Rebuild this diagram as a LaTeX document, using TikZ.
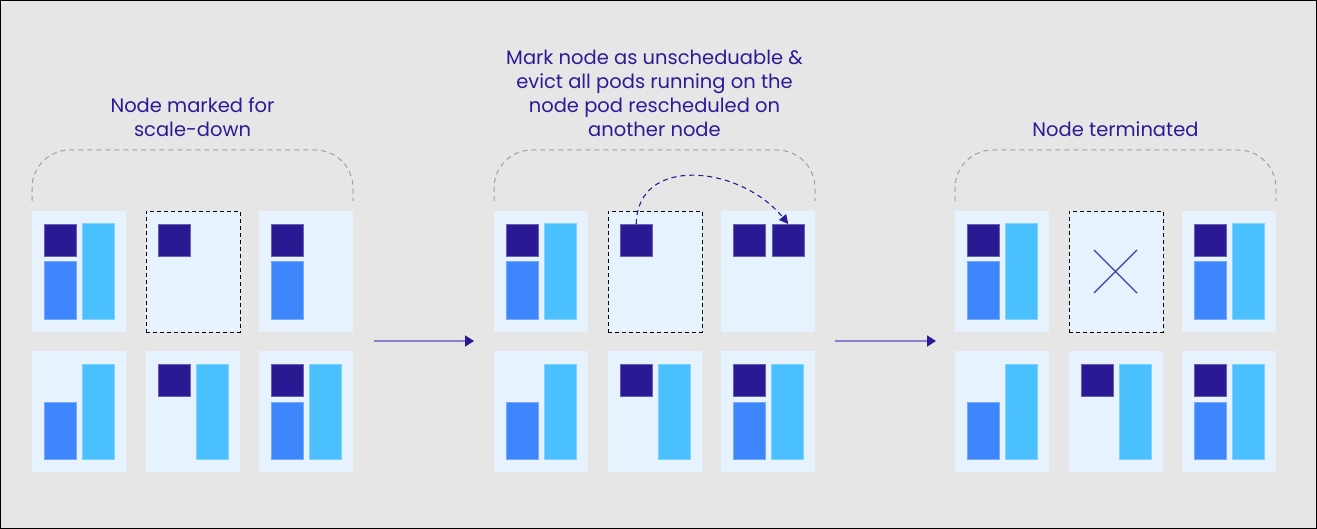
\documentclass[tikz,border=0pt]{standalone}
\usepackage{fontspec}
\setmainfont{Poppins}
\usetikzlibrary{arrows.meta}
\definecolor{bgc}{HTML}{E6E6E6}
\definecolor{cellc}{HTML}{E6F2FD}
\definecolor{darkc}{HTML}{291A93}
\definecolor{midc}{HTML}{3D86FB}
\definecolor{lightc}{HTML}{4AC0FE}
\definecolor{txtc}{HTML}{2B1B94}
\definecolor{arrc}{HTML}{8682C8}
\definecolor{brc}{HTML}{A0A0A0}
\definecolor{crossc}{HTML}{3F3AA8}
\tikzset{
  cellbox/.style={fill=cellc, draw=none, minimum width=94pt, minimum height=121pt, inner sep=0pt, outer sep=0pt},
  deadbox/.style={cellbox, draw=black, line width=0.9pt, dash pattern=on 4pt off 3pt},
  podd/.style={fill=darkc, draw=darkc!70!white, line width=0.5pt, minimum width=32pt, minimum height=32pt, inner sep=0pt, anchor=north west},
  podm/.style={fill=midc, draw=midc!70!white, line width=0.5pt, minimum width=32pt, minimum height=57pt, inner sep=0pt, anchor=south west},
  podl/.style={fill=lightc, draw=lightc!70!white, line width=0.5pt, minimum width=32pt, minimum height=95pt, inner sep=0pt, anchor=south west},
  bracketline/.style={draw=brc, line width=1pt, dash pattern=on 5pt off 4pt, rounded corners=38pt},
  title/.style={text=txtc, font=\fontsize{19.5}{24.3}\selectfont, align=center, anchor=base},
  steparrow/.style={draw=arrc, line width=1.8pt, -{Triangle[length=9pt, width=11pt, color=darkc]}},
  movearrow/.style={draw=darkc, line width=1.1pt, dash pattern=on 5pt off 4pt, -{Triangle[length=9pt, width=9pt]}},
  crossline/.style={draw=crossc, line width=1.1pt}
}
\newcommand{\cellat}[3]{\node[cellbox] (#3) at (#1+47,#2+60.5) {};}
\newcommand{\deadat}[3]{\node[deadbox] (#3) at (#1+47,#2+60.5) {};}
\newcommand{\poddk}[3]{\node[podd] (#3) at (#1+12,#2+13) {};}
\newcommand{\podmd}[3]{\node[podm] (#3) at (#1+12,#2+108) {};}
\newcommand{\podlt}[3]{\node[podl] (#3) at (#1+50,#2+108) {};}
\newcommand{\fullcell}[3]{\cellat{#1}{#2}{#3}\poddk{#1}{#2}{#3d}\podmd{#1}{#2}{#3m}\podlt{#1}{#2}{#3l}}
\newcommand{\midlight}[3]{\cellat{#1}{#2}{#3}\podmd{#1}{#2}{#3m}\podlt{#1}{#2}{#3l}}
\newcommand{\darklight}[3]{\cellat{#1}{#2}{#3}\poddk{#1}{#2}{#3d}\podlt{#1}{#2}{#3l}}
\begin{document}
\begin{tikzpicture}[x=1pt, y=-1pt]
\fill[bgc] (0,0) rectangle (1317,529);
\draw[black, line width=1.2pt] (0.6,0.6) rectangle (1316.4,528.4);
\useasboundingbox (0,0) rectangle (1317,529);

% ---------- group 1 ----------
\node[title] (t1) at (192.5,137) {Node marked for\\scale-down};
\draw[bracketline] (32,201) -- (32,150) -- (353,150) -- (353,201);
\fullcell{32}{211}{a1}
\deadat{146}{211}{a2}\poddk{146}{211}{a2d}
\cellat{259}{211}{a3}\poddk{259}{211}{a3d}\podmd{259}{211}{a3m}
\midlight{32}{351}{a4}
\darklight{146}{351}{a5}
\fullcell{259}{351}{a6}

% ---------- group 2 ----------
\node[title] (t2) at (654.5,137) {Mark node as unscheduable \&\\evict all pods running on the\\node pod rescheduled on\\another node};
\draw[bracketline] (494,201) -- (494,150) -- (815,150) -- (815,201);
\fullcell{494}{211}{b1}
\deadat{608}{211}{b2}\poddk{608}{211}{b2d}
\cellat{721}{211}{b3}\poddk{721}{211}{b3d}\node[podd] (b3e) at (772,224) {};
\midlight{494}{351}{b4}
\darklight{608}{351}{b5}
\fullcell{721}{351}{b6}
\draw[movearrow] (b2d.north) .. controls (637,155) and (740,165) .. (b3e.north);

% ---------- group 3 ----------
\node[title] (t3) at (1115.5,137) {Node terminated};
\draw[bracketline] (955,201) -- (955,150) -- (1276,150) -- (1276,201);
\fullcell{955}{211}{c1}
\deadat{1069}{211}{c2}
\coordinate (x1) at (1094,250);
\coordinate (x2) at (1137,293);
\coordinate (x3) at (1137,250);
\coordinate (x4) at (1094,293);
\draw[crossline] (x1) -- (x2);
\draw[crossline] (x3) -- (x4);
\fullcell{1182}{211}{c3}
\midlight{955}{351}{c4}
\darklight{1069}{351}{c5}
\fullcell{1182}{351}{c6}

% ---------- step arrows ----------
\coordinate (s1a) at (374,341);
\coordinate (s1b) at (474,341);
\coordinate (s2a) at (835,341);
\coordinate (s2b) at (936,341);
\draw[steparrow] (s1a) -- (s1b);
\draw[steparrow] (s2a) -- (s2b);
\end{tikzpicture}
\end{document}
